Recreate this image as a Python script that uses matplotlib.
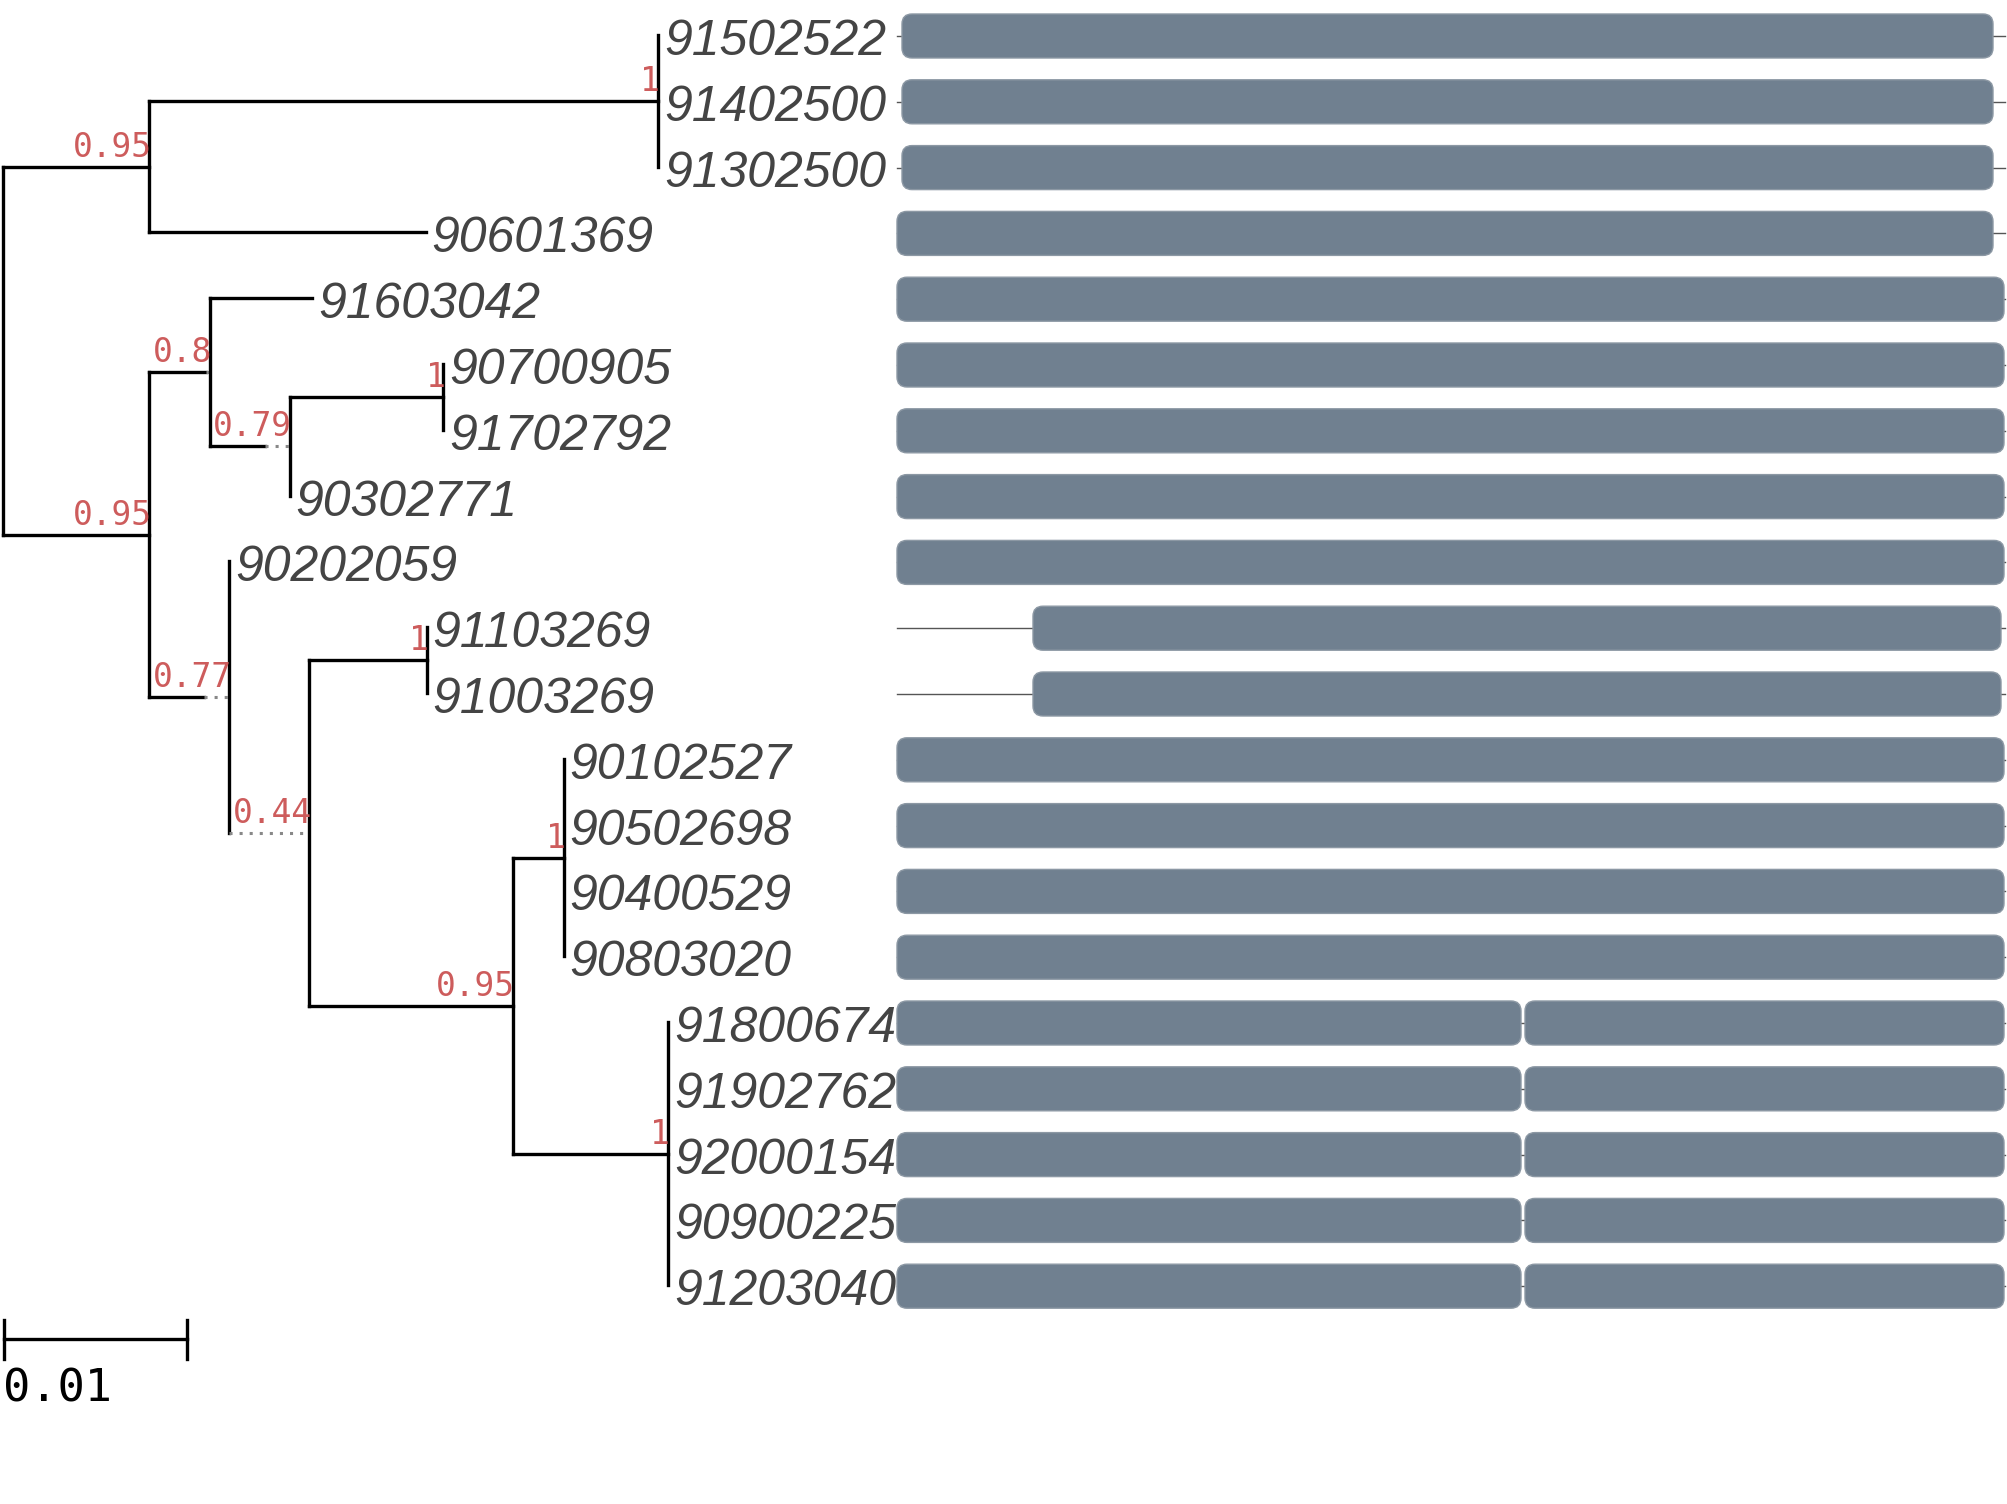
import matplotlib
matplotlib.use('Agg')
import matplotlib.pyplot as plt
from matplotlib.patches import FancyBboxPatch

# leaves, top to bottom
leaf_names = ['91502522', '91402500', '91302500', '90601369', '91603042',
              '90700905', '91702792', '90302771', '90202059', '91103269',
              '91003269', '90102527', '90502698', '90400529', '90803020',
              '91800674', '91902762', '92000154', '90900225', '91203040']
leaf_parent = ['T', 'T', 'T', 'A', 'C', 'E', 'E', 'D', 'F', 'H',
               'H', 'J', 'J', 'J', 'J', 'K', 'K', 'K', 'K', 'K']
leaf_dist = [0, 0, 0, 0.0151, 0.0056, 0, 0, 0, 0, 0,
             0, 0, 0, 0, 0, 0, 0, 0, 0, 0]

# internal nodes
node_ids = ['root', 'A', 'T', 'B', 'C', 'D', 'E', 'F', 'G', 'H', 'I', 'J', 'K']
node_parent = [None, 'root', 'A', 'root', 'B', 'C', 'D', 'B', 'F', 'G', 'G', 'I', 'I']
node_dist = [0, 0.0080, 0.0278, 0.0080, 0.0031, 0.0030, 0.0084, 0.0030,
             0.0, 0.0064, 0.0111, 0.0028, 0.0085]
node_support = [None, 0.95, 1, 0.95, 0.8, 0.79, 1, 0.77, 0.44, 1, 0.95, 1, 1]

# alignment motifs per leaf (start, end) in alignment columns
aln_len = 1108
motifs = [[(5, 1096)]] * 3 + [[(0, 1096)]] + [[(0, 1107)]] * 5 + \
         [[(136, 1104)]] * 2 + [[(0, 1107)]] * 4 + [[(0, 624), (628, 1107)]] * 5

scale_len = 0.01

W, H = 2007, 1504
PX = 18300          # px per substitution unit
ROW0, ROW_H = 35, 65.8
X_ROOT = 3
LABEL_GAP = 6
FACE_PAD = 1
SEQ_X0 = 897

fig = plt.figure(figsize=(W / 100, H / 100), dpi=100)
ax = fig.add_axes([0, 0, 1, 1])
ax.set_xlim(0, W)
ax.set_ylim(H, 0)
ax.axis('off')
renderer = fig.canvas.get_renderer()

LW = 2.4
SUP_FS = 23.7
SUP_COL = '#cd5c5c'
MONO = 'DejaVu Sans Mono'

children = {n: [] for n in node_ids}
for i, p in enumerate(leaf_parent):
    children[p].append(('leaf', i))
for n, p in zip(node_ids, node_parent):
    if p:
        children[p].append(('node', n))

ypos = {}
yspan = {}


def leaf_y(i):
    return ROW0 + i * ROW_H


def node_y(n):
    ys = [leaf_y(c) if k == 'leaf' else node_y(c) for k, c in children[n]]
    yspan[n] = (min(ys), max(ys))
    ypos[n] = (min(ys) + max(ys)) / 2
    return ypos[n]


node_y('root')


def text_w(s):
    t = ax.text(0, 0, s, fontsize=SUP_FS, family=MONO)
    w = t.get_window_extent(renderer).width
    t.remove()
    return w


def draw(n, x0):
    i = node_ids.index(n)
    d = node_dist[i] * PX
    sup = node_support[i]
    ext = 0
    y = ypos[n]
    if sup is not None:
        s = f'{sup:g}'
        ext = max(0, text_w(s) + FACE_PAD - d)
    x = x0 + d + ext
    if n != 'root':
        if d > 0:
            ax.plot([x0, x0 + d], [y, y], color='black', lw=LW, solid_capstyle='projecting')
        if ext > 0:
            ax.plot([x0 + d, x], [y, y], color='#888888', lw=2.2, linestyle=(0, (1, 2.3)))
        ax.text(x + 2, y - 10, s, ha='right', va='baseline', fontsize=SUP_FS,
                family=MONO, color=SUP_COL)
    ax.plot([x, x], list(yspan[n]), color='black', lw=LW, solid_capstyle='projecting')
    for k, c in children[n]:
        if k == 'leaf':
            ly = leaf_y(c)
            lx = x + leaf_dist[c] * PX
            if lx > x:
                ax.plot([x, lx], [ly, ly], color='black', lw=LW, solid_capstyle='projecting')
            ax.text(lx + LABEL_GAP, ly + 20, leaf_names[c], ha='left', va='baseline',
                    fontsize=36, style='italic', color='#444444',
                    family=['Liberation Sans', 'DejaVu Sans'])
        else:
            draw(c, x)


draw('root', X_ROOT)

# alignment faces
for i, mots in enumerate(motifs):
    y = leaf_y(i) + 1
    ax.plot([SEQ_X0, SEQ_X0 + aln_len], [y, y], color='#555555', lw=1.0, zorder=1)
    for st, en in mots:
        ax.add_patch(FancyBboxPatch((SEQ_X0 + st, y - 22), en - st, 44,
                                    boxstyle='round,pad=0,rounding_size=10',
                                    facecolor='#708090', edgecolor='#8c98a4',
                                    lw=1.0, zorder=2))

# scale bar
sb_y = 1339
ax.plot([X_ROOT + 1, X_ROOT + 1 + scale_len * PX], [sb_y, sb_y], color='black', lw=LW)
for sx in (X_ROOT + 1, X_ROOT + 1 + scale_len * PX):
    ax.plot([sx, sx], [sb_y - 19, sb_y + 20], color='black', lw=LW)
ax.text(X_ROOT, 1401, f'{scale_len:g}', ha='left', va='baseline', fontsize=32.6,
        family=MONO, color='black')

fig.savefig('out.png', dpi=100, facecolor='white')
